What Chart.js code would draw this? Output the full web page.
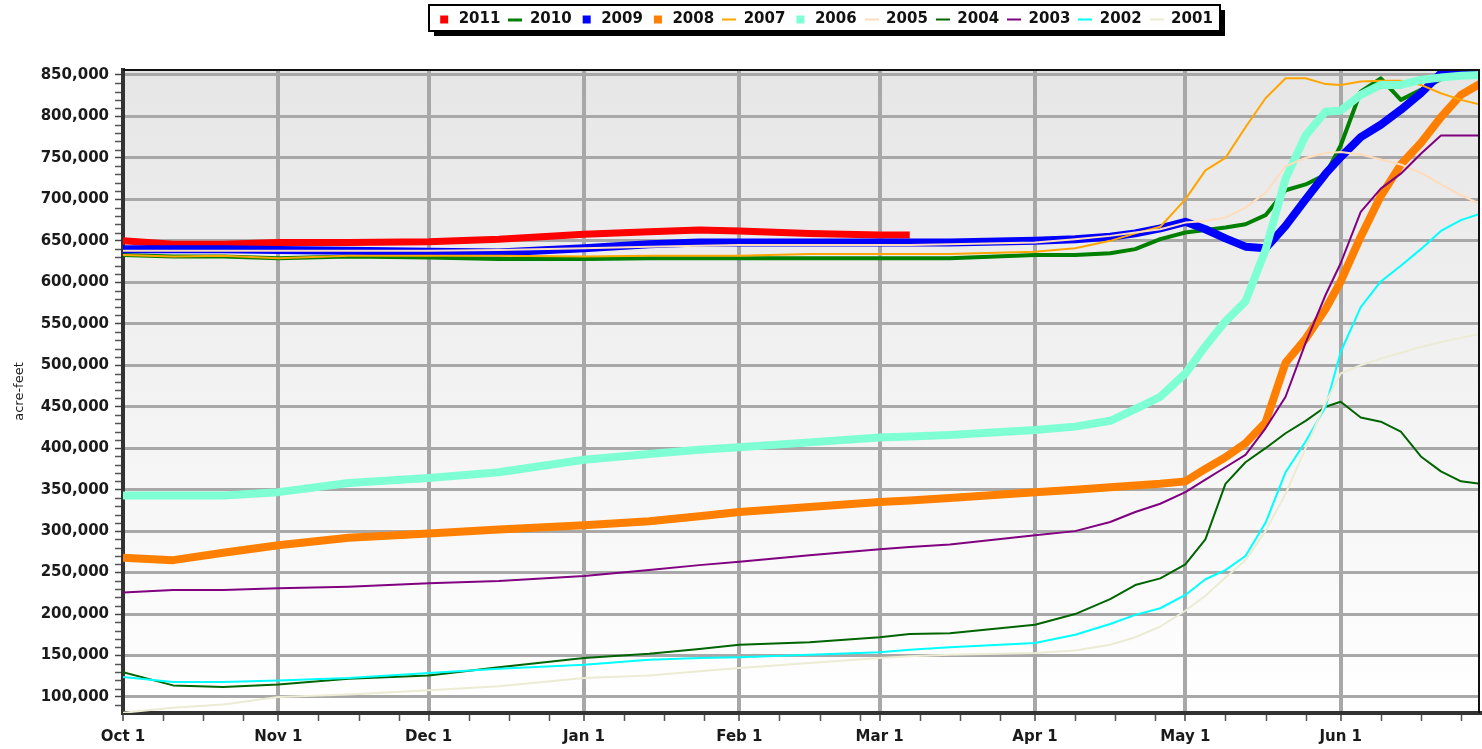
<!DOCTYPE html>
<html>
<head>
<meta charset="utf-8">
<script src="https://cdn.jsdelivr.net/npm/chart.js@4.4.1/dist/chart.umd.min.js"></script>
<style>html,body{margin:0;padding:0;background:#fff;}canvas{display:block;}</style>
</head>
<body>
<canvas id="c" width="1482" height="749"></canvas>
<script>
// ---- data (day offsets from Oct 1) ----
const days = [0,10,20,31,45,61,75,92,105,115,123,137,151,157,165,182,190,197,202,207,212,216,220,224,228,232,236,240,243,247,251,255,259,263,267,271];
const monthDays = [0,31,61,92,123,151,182,212,243];
const monthLabels = ['Oct 1','Nov 1','Dec 1','Jan 1','Feb 1','Mar 1','Apr 1','May 1','Jun 1'];
const yTicks = [100000,150000,200000,250000,300000,350000,400000,450000,500000,550000,600000,650000,700000,750000,800000,850000];
const years = ['2011','2010','2009','2008','2007','2006','2005','2004','2003','2002','2001'];

const s2011 = [650000,646000,646000,648000,648000,649000,652000,658000,661000,663000,662000,659000,657000,657000,null,null,null,null,null,null,null,null,null,null,null,null,null,null,null,null,null,null,null,null,null,null];
const s2010 = [633000,631000,631000,629000,631000,630000,628000,628000,629000,629000,629000,629000,629000,629000,629000,633000,633000,635000,640000,652000,660000,663000,666000,670000,681000,711000,718000,730000,765000,830000,846000,820000,832000,845000,850000,852000];
const s2009 = [640000,640000,640000,639000,638000,637000,636000,641000,646000,648000,648000,648000,648000,648000,648000,650000,652000,655000,659000,665000,673000,664000,653000,643000,641000,668000,700000,731000,751000,775000,790000,808000,828000,852000,853000,853000];
const s2008 = [268000,265000,274000,283000,292000,297000,302000,307000,312000,318000,323000,329000,335000,337000,340000,347000,350000,353000,355000,357000,360000,375000,389000,406000,431000,503000,532000,568000,601000,655000,704000,742000,768000,799000,826000,840000];
const s2007 = [633000,631000,632000,629000,632000,632000,632000,631000,632000,632000,632000,634000,634000,634000,634000,637000,641000,650000,659000,667000,700000,735000,750000,787000,822000,846000,846000,839000,838000,842000,843000,843000,838000,828000,820000,814000];
const s2006 = [343000,343000,343000,347000,358000,364000,371000,386000,393000,398000,401000,407000,413000,414000,416000,422000,426000,433000,447000,462000,490000,523000,553000,577000,639000,725000,777000,806000,807000,826000,838000,838000,844000,847000,849000,850000];
const s2005 = [638000,638000,638000,638000,638000,638000,639000,641000,643000,644000,645000,645000,645000,645000,646000,648000,652000,656000,660000,664000,672000,674000,678000,690000,708000,740000,750000,756000,757000,754000,748000,742000,732000,718000,705000,694000];
const s2004 = [130000,114000,112000,115000,122000,126000,136000,147000,152000,158000,163000,166000,172000,176000,177000,187000,200000,218000,235000,243000,260000,290000,357000,383000,400000,418000,433000,450000,456000,437000,432000,420000,390000,372000,360000,357000];
const s2003 = [226000,229000,229000,231000,233000,237000,240000,246000,253000,259000,263000,271000,278000,281000,284000,295000,300000,311000,323000,333000,347000,362000,377000,392000,424000,462000,527000,585000,623000,685000,713000,731000,755000,777000,777000,777000];
const s2002 = [124000,118000,118000,120000,123000,129000,134000,139000,145000,147000,148000,151000,154000,157000,160000,165000,175000,188000,199000,207000,223000,242000,253000,270000,310000,371000,408000,450000,516000,570000,601000,620000,640000,662000,675000,683000];
const s2001 = [81000,87000,91000,100000,103000,108000,113000,123000,126000,131000,135000,141000,147000,149000,151000,153000,156000,163000,172000,185000,204000,222000,244000,265000,300000,345000,400000,455000,490000,500000,508000,515000,522000,528000,533000,538000];
const seriesValues = [s2011,s2010,s2009,s2008,s2007,s2006,s2005,s2004,s2003,s2002,s2001];

// ---- styles ----
const colors = ['#ff0000','#008000','#0000ff','#ff8000','#ffa500','#7fffd4','#ffdcbc','#006400','#800080','#00ffff','#ecebd3'];
const widths = [7,4,8,8,2,8,2,2,2,2,2];
const squareSwatch = [true,false,true,true,false,true,false,false,false,false,false];

Chart.defaults.font.family = "'DejaVu Sans', Verdana, sans-serif";

function makeSwatch(color, square, w) {
  const c = document.createElement('canvas');
  c.width = 14; c.height = 10;
  const g = c.getContext('2d');
  g.fillStyle = color;
  if (square) g.fillRect(3, 1, 8, 8);
  else g.fillRect(0, 4, 14, w > 2 ? 3 : 2);
  return c;
}

const frame = {
  id: 'frame',
  beforeLayout(chart) {
    const lg = chart.legend;
    if (lg && !lg._patched) {
      const f = lg.fit;
      lg.fit = function () { f.call(this); this.height = 66; };
      lg._patched = true;
    }
  },
  afterLayout(chart) {
    const lg = chart.legend;
    const shift = 825 - (lg.left + lg.right) / 2;
    lg.left += shift; lg.right += shift;
  },
  beforeDraw(chart) {
    const ctx = chart.ctx, a = chart.chartArea;
    ctx.save();
    ctx.fillStyle = '#fff';
    ctx.fillRect(0, 0, chart.width, chart.height);
    const grad = ctx.createLinearGradient(0, a.top, 0, a.bottom);
    grad.addColorStop(0, '#e6e6e6');
    grad.addColorStop(1, '#ffffff');
    ctx.fillStyle = grad;
    ctx.fillRect(a.left, a.top, a.right - a.left, a.bottom - a.top);
    const lg = chart.legend;
    const itemsW = lg.lineWidths[0] - 8;
    const cx = (lg.left + lg.right) / 2;
    const fl = Math.round(cx - itemsW / 2 - 8), fr = Math.round(cx + itemsW / 2 + 7);
    ctx.fillStyle = '#000';
    ctx.fillRect(fl + 5, 10, fr - fl, 26);
    ctx.fillStyle = '#fff';
    ctx.fillRect(fl, 5, fr - fl, 26);
    ctx.strokeStyle = '#000'; ctx.lineWidth = 2;
    ctx.strokeRect(fl, 5, fr - fl, 26);
    ctx.restore();
  },
  afterDraw(chart) {
    const ctx = chart.ctx, a = chart.chartArea, ys = chart.scales.y, xs = chart.scales.x;
    ctx.save();
    ctx.strokeStyle = '#111'; ctx.lineWidth = 2;
    ctx.beginPath();
    ctx.moveTo(a.left, a.top); ctx.lineTo(a.right, a.top);
    ctx.moveTo(a.right - 1, a.top); ctx.lineTo(a.right - 1, a.bottom);
    ctx.stroke();
    ctx.strokeStyle = '#555'; ctx.lineWidth = 1.5;
    ctx.beginPath();
    for (let v = 90000; v < ys.max; v += 10000) {
      if (v % 50000 === 0) continue;
      const py = Math.round(ys.getPixelForValue(v)) + 0.5;
      ctx.moveTo(a.left - 8, py); ctx.lineTo(a.left - 2, py);
    }
    for (const m of monthDays) {
      for (const k of [8, 16, 24]) {
        const d = m + k;
        if (d >= xs.max) continue;
        const px = Math.round(xs.getPixelForValue(d)) + 0.5;
        ctx.moveTo(px, a.bottom + 2); ctx.lineTo(px, a.bottom + 8);
      }
    }
    ctx.stroke();
    ctx.restore();
  }
};

new Chart(document.getElementById('c'), {
  type: 'line',
  data: {
    datasets: years.map((y, i) => ({
      label: y,
      data: days.map((d, j) => ({ x: d, y: seriesValues[i][j] })),
      borderColor: colors[i],
      backgroundColor: colors[i],
      borderWidth: widths[i],
      pointRadius: 0,
      tension: 0,
      fill: false,
      spanGaps: false,
      clip: 0,
      order: years.length - i,
      borderJoinStyle: 'round'
    }))
  },
  options: {
    responsive: false,
    animation: false,
    events: [],
    layout: { padding: { top: 4, left: 0, right: 2, bottom: 0 } },
    plugins: {
      tooltip: { enabled: false },
      legend: {
        display: true,
        position: 'top',
        labels: {
          usePointStyle: true,
          pointStyleWidth: 14,
          padding: 8,
          color: '#111',
          font: { size: 15, weight: 'bold' },
          generateLabels(chart) {
            return chart.data.datasets.map((ds, i) => ({
              text: ds.label,
              fillStyle: colors[i],
              strokeStyle: colors[i],
              lineWidth: 0,
              fontColor: '#111',
              pointStyle: makeSwatch(colors[i], squareSwatch[i], widths[i]),
              hidden: false,
              datasetIndex: i
            }));
          }
        }
      }
    },
    scales: {
      x: {
        type: 'linear',
        min: 0,
        max: 270.8,
        afterBuildTicks(scale) { scale.ticks = monthDays.map(v => ({ value: v })); },
        afterFit(scale) { scale.height = 36; },
        ticks: {
          autoSkip: false,
          maxRotation: 0,
          padding: 7,
          color: '#1a1a1a',
          font: { size: 15, weight: 'bold' },
          callback(v) { const k = monthDays.indexOf(v); return k >= 0 ? monthLabels[k] : ''; }
        },
        grid: { color: '#a8a8a8', lineWidth: 4, drawTicks: true, tickLength: 8, tickColor: '#444', tickWidth: 1.5 },
        border: { display: true, color: '#333', width: 4 }
      },
      y: {
        type: 'linear',
        min: 80700,
        max: 856000,
        afterBuildTicks(scale) { scale.ticks = yTicks.map(v => ({ value: v })); },
        afterFit(scale) { scale.width = 123; },
        ticks: {
          padding: 6,
          color: '#1a1a1a',
          font: { size: 15, weight: 'bold' },
          callback(v) { return Number(v).toLocaleString('en-US'); }
        },
        title: {
          display: true,
          text: 'acre-feet',
          color: '#222',
          font: { size: 13 },
          padding: { top: 12, bottom: 0 }
        },
        grid: { color: '#a8a8a8', lineWidth: 3, drawTicks: true, tickLength: 8, tickColor: '#444', tickWidth: 1.5 },
        border: { display: true, color: '#333', width: 4 }
      }
    }
  },
  plugins: [frame]
});
</script>
</body>
</html>
